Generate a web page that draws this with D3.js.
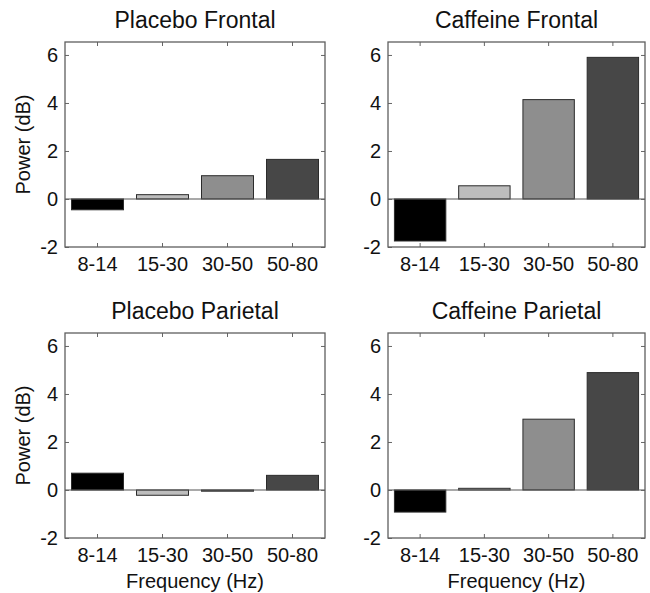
<!DOCTYPE html>
<html>
<head>
<meta charset="utf-8">
<script src="https://cdn.jsdelivr.net/npm/d3@7"></script>
<style>
  body { margin: 0; background: #fff; }
  svg { display: block; font-family: "Liberation Sans", Arial, sans-serif; }
</style>
</head>
<body>
<div id="chart"></div>
<script>
const bands = ['8-14', '15-30', '30-50', '50-80'];
const titles = ['Placebo Frontal', 'Caffeine Frontal', 'Placebo Parietal', 'Caffeine Parietal'];
const placeboFrontal = [-0.45, 0.18, 0.97, 1.65];
const caffeineFrontal = [-1.75, 0.55, 4.14, 5.9];
const placeboParietal = [0.7, -0.22, -0.05, 0.61];
const caffeineParietal = [-0.92, 0.07, 2.95, 4.89];
const yTicks = [-2, 0, 2, 4, 6];
const barColors = ['#000000', '#bdbdbd', '#8e8e8e', '#474747'];

const series = [placeboFrontal, caffeineFrontal, placeboParietal, caffeineParietal];

const width = 650, height = 593;
// panel boxes: left column / right column, top row / bottom row
const cols = [{ x0: 65, x1: 325 }, { x0: 388, x1: 645 }];
const rows = [{ y0: 42, y1: 247 }, { y0: 333, y1: 538 }];

const svg = d3.select('#chart')
  .append('svg')
  .attr('width', width)
  .attr('height', height);

series.forEach((values, i) => {
  const col = cols[i % 2];
  const row = rows[Math.floor(i / 2)];

  const x = d3.scaleBand()
    .domain(bands)
    .range([col.x0, col.x1])
    .paddingInner(0.2)
    .paddingOuter(0.1);
  const y = d3.scaleLinear()
    .domain([-2, 6.54])
    .range([row.y1, row.y0]);

  const g = svg.append('g');

  // bars
  g.selectAll('rect.bar')
    .data(values)
    .join('rect')
    .attr('class', 'bar')
    .attr('x', (d, j) => x(bands[j]))
    .attr('width', x.bandwidth())
    .attr('y', d => y(Math.max(0, d)))
    .attr('height', d => Math.abs(y(d) - y(0)))
    .attr('fill', (d, j) => barColors[j])
    .attr('stroke', '#2b2b2b')
    .attr('stroke-width', 1);

  // zero line
  g.append('line')
    .attr('x1', col.x0).attr('x2', col.x1)
    .attr('y1', y(0)).attr('y2', y(0))
    .attr('stroke', '#555').attr('stroke-width', 1.2);

  // axes with inward ticks
  const axes = [
    g.append('g').attr('transform', `translate(0,${row.y1})`)
      .call(d3.axisBottom(x).tickSize(-4).tickPadding(10)),
    g.append('g').attr('transform', `translate(0,${row.y0})`)
      .call(d3.axisTop(x).tickSize(-4).tickFormat('')),
    g.append('g').attr('transform', `translate(${col.x0},0)`)
      .call(d3.axisLeft(y).tickValues(yTicks).tickSize(-4).tickPadding(7).tickFormat(d => String(d))),
    g.append('g').attr('transform', `translate(${col.x1},0)`)
      .call(d3.axisRight(y).tickValues(yTicks).tickSize(-4).tickFormat(''))
  ];
  axes.forEach(a => {
    a.select('.domain').remove();
    a.selectAll('.tick line').attr('stroke', '#666');
    a.selectAll('.tick text')
      .attr('fill', '#111')
      .style('font-size', '20px')
      .style('font-family', '"Liberation Sans", Arial, sans-serif');
  });

  // frame
  g.append('rect')
    .attr('x', col.x0).attr('y', row.y0)
    .attr('width', col.x1 - col.x0).attr('height', row.y1 - row.y0)
    .attr('fill', 'none')
    .attr('stroke', '#5f5f5f')
    .attr('stroke-width', 1.3);

  // title
  g.append('text')
    .attr('x', (col.x0 + col.x1) / 2)
    .attr('y', row.y0 - 14)
    .attr('text-anchor', 'middle')
    .attr('fill', '#111')
    .style('font-size', '23px')
    .text(titles[i]);

  if (i % 2 === 0) {
    g.append('text')
      .attr('transform', `translate(30,${(row.y0 + row.y1) / 2}) rotate(-90)`)
      .attr('text-anchor', 'middle')
      .attr('fill', '#111')
      .style('font-size', '20px')
      .text('Power (dB)');
  }
  if (i >= 2) {
    g.append('text')
      .attr('x', (col.x0 + col.x1) / 2)
      .attr('y', row.y1 + 50)
      .attr('text-anchor', 'middle')
      .attr('fill', '#111')
      .style('font-size', '20px')
      .text('Frequency (Hz)');
  }
});
</script>
</body>
</html>
